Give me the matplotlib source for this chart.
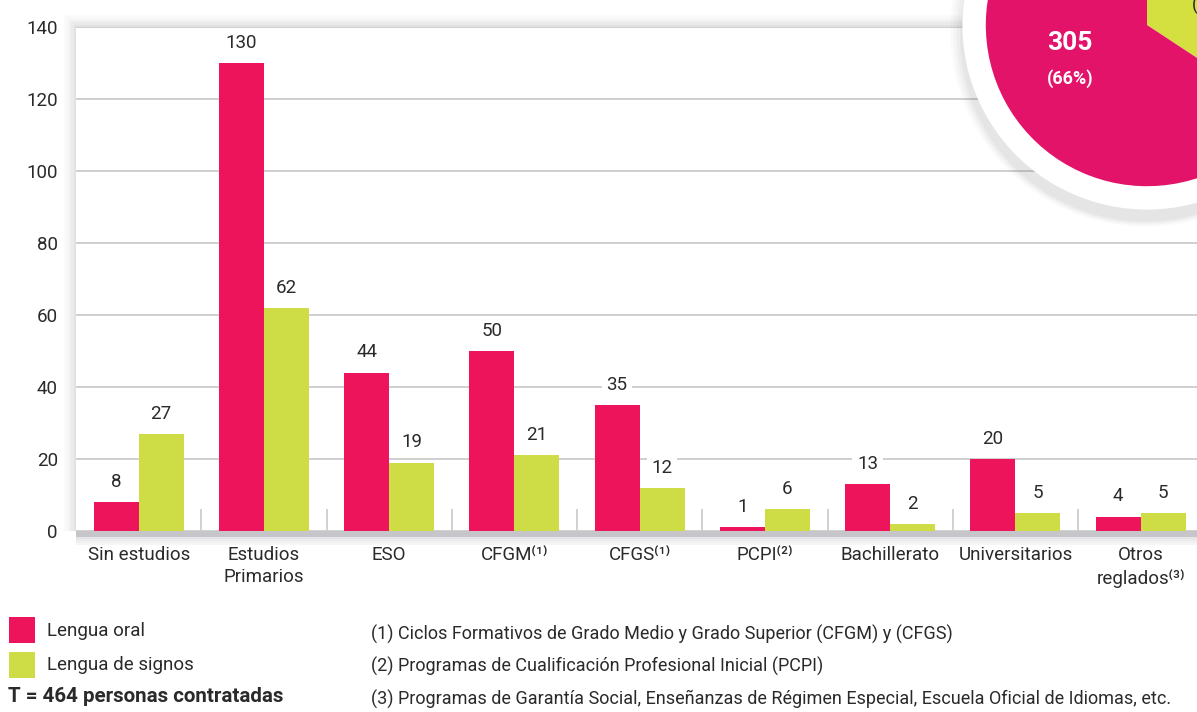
import numpy as np
import matplotlib
matplotlib.use("Agg")
import matplotlib.pyplot as plt
from matplotlib.patches import Rectangle, Circle

# datos
categorias = ["Sin estudios", "Estudios\nPrimarios", "ESO", "CFGM⁽¹⁾", "CFGS⁽¹⁾",
              "PCPI⁽²⁾", "Bachillerato", "Universitarios", "Otros\nreglados⁽³⁾"]
lengua_oral = [8, 130, 44, 50, 35, 1, 13, 20, 4]
lengua_signos = [27, 62, 19, 21, 12, 6, 2, 5, 5]
total_oral = 305
total_signos = 159
pct_oral = "(66%)"
pct_signos = "(34%)"
notas = [
    "(1) Ciclos Formativos de Grado Medio y Grado Superior (CFGM) y (CFGS)",
    "(2) Programas de Cualificación Profesional Inicial (PCPI)",
    "(3) Programas de Garantía Social, Enseñanzas de Régimen Especial, Escuela Oficial de Idiomas, etc.",
]

ROSA = "#ED145B"
VERDE = "#CEDC45"
ROSA_PIE = "#E3136A"
VERDE_PIE = "#D4E03F"
TXT = "#2a2a2a"
plt.rcParams["font.family"] = ["Roboto", "DejaVu Sans"]

W, H = 1197, 712
fig = plt.figure(figsize=(W / 100, H / 100), dpi=100)
fig.patch.set_facecolor("white")

# caja del grafico (px -> fraccion)
x0, y_top, y_bot = 76, 27, 531
ax = fig.add_axes([x0 / W, 1 - y_bot / H, 1 - x0 / W, (y_bot - y_top) / H])

# sombra de la caja
for i, a in enumerate([0.02, 0.025, 0.03, 0.04, 0.05]):
    d = (5 - i) * 2.5
    fig.add_artist(Rectangle(((x0 - d) / W, 1 - y_bot / H), 1, (y_bot - y_top + d) / H,
                             transform=fig.transFigure, facecolor="#555555",
                             alpha=a, edgecolor="none", zorder=-1))
fig.add_artist(Rectangle((x0 / W, 1 - 537 / H), 1, 6 / H, transform=fig.transFigure,
                         facecolor="#c6c6ca", edgecolor="none", zorder=-1))
for i in range(4):
    fig.add_artist(Rectangle((x0 / W, 1 - (537 + 2 * (i + 1)) / H), 1, 2 / H,
                             transform=fig.transFigure, facecolor="#c6c6ca",
                             alpha=0.45 - 0.1 * i, edgecolor="none", zorder=-1))

x = np.arange(len(categorias))
ancho = 0.36
ax.bar(x - ancho / 2, lengua_oral, ancho, color=ROSA, zorder=3)
ax.bar(x + ancho / 2, lengua_signos, ancho, color=VERDE, zorder=3)

for xi, v in zip(x - ancho / 2, lengua_oral):
    ax.annotate(str(v), (xi, v), xytext=(0, 8), textcoords="offset points",
                ha="center", va="bottom", fontsize=13.5, color=TXT, zorder=4,
                bbox=dict(boxstyle="square,pad=0.25", fc="white", ec="none"))
for xi, v in zip(x + ancho / 2, lengua_signos):
    ax.annotate(str(v), (xi, v), xytext=(0, 8), textcoords="offset points",
                ha="center", va="bottom", fontsize=13.5, color=TXT, zorder=4,
                bbox=dict(boxstyle="square,pad=0.25", fc="white", ec="none"))

# separadores entre grupos
ax.vlines(x[:-1] + 0.5, 0, 6, color="#cdcdd1", lw=1.3, zorder=2)

ax.set_xlim(-0.5, -0.5 + (W - x0) / 125.25)
ax.set_ylim(0, 140)
ax.set_yticks(np.arange(0, 141, 20))
ax.set_xticks(x)
ax.set_xticklabels(categorias, fontsize=13.5, color=TXT, linespacing=1.3)
ax.tick_params(axis="both", length=0, labelsize=13.5, labelcolor=TXT)
ax.tick_params(axis="x", pad=11)
ax.tick_params(axis="y", pad=13)
ax.grid(axis="y", color="#cbcbcf", lw=1.3, zorder=1)
for s in ax.spines.values():
    s.set_visible(False)
ax.set_facecolor("white")

# grafico circular (cortado arriba a la derecha)
cx, cy, r = 1147, 25, 155
ext = 1.3
lado = 2 * ext * r
axp = fig.add_axes([(cx - lado / 2) / W, 1 - (cy + lado / 2) / H, lado / W, lado / H])
axp.set_xlim(-ext, ext)
axp.set_ylim(-ext, ext)
axp.set_aspect("equal")
axp.axis("off")
for i, a in enumerate([0.025, 0.03, 0.035, 0.045]):
    axp.add_patch(Circle((-0.01, -0.04 - 0.01 * i), 1.15 + 0.02 * (3 - i),
                         color="#444444", alpha=a, ec="none", zorder=0))
axp.add_patch(Circle((0, 0), 1.145, color="white", ec="none", zorder=1))
wedges, _ = axp.pie([total_signos, total_oral], colors=[VERDE_PIE, ROSA_PIE],
                    startangle=90, counterclock=False, radius=1.0,
                    wedgeprops=dict(linewidth=0))
for w in wedges:
    w.set_zorder(2)
axp.text(-0.477, -0.11, str(total_oral), color="white", fontsize=19,
         fontweight="bold", ha="center", va="center", zorder=3)
axp.text(-0.477, -0.335, pct_oral, color="white", fontsize=13,
         fontweight="bold", ha="center", va="center", zorder=3)
axp.text(0.28, 0.37, str(total_signos), color=TXT, fontsize=19,
         fontweight="bold", ha="left", va="center", zorder=3)
axp.text(0.28, 0.12, pct_signos, color=TXT, fontsize=13,
         ha="left", va="center", zorder=3)

# leyenda
fig.add_artist(Rectangle((9 / W, 1 - 643 / H), 26 / W, 26 / H, transform=fig.transFigure,
                         facecolor=ROSA, edgecolor="none"))
fig.add_artist(Rectangle((9 / W, 1 - 678 / H), 26 / W, 26 / H, transform=fig.transFigure,
                         facecolor=VERDE, edgecolor="none"))
fig.text(47 / W, 1 - 631 / H, "Lengua oral", fontsize=13.5, color=TXT, va="center")
fig.text(47 / W, 1 - 665 / H, "Lengua de signos", fontsize=13.5, color=TXT, va="center")
fig.text(8 / W, 1 - 697 / H, "T = 464 personas contratadas", fontsize=14.8,
         fontweight="bold", color=TXT, va="center")

for i, n in enumerate(notas):
    fig.text(371 / W, 1 - (634 + 32.5 * i) / H, n, fontsize=13, color=TXT, va="center")

fig.savefig("out.png", dpi=100)
